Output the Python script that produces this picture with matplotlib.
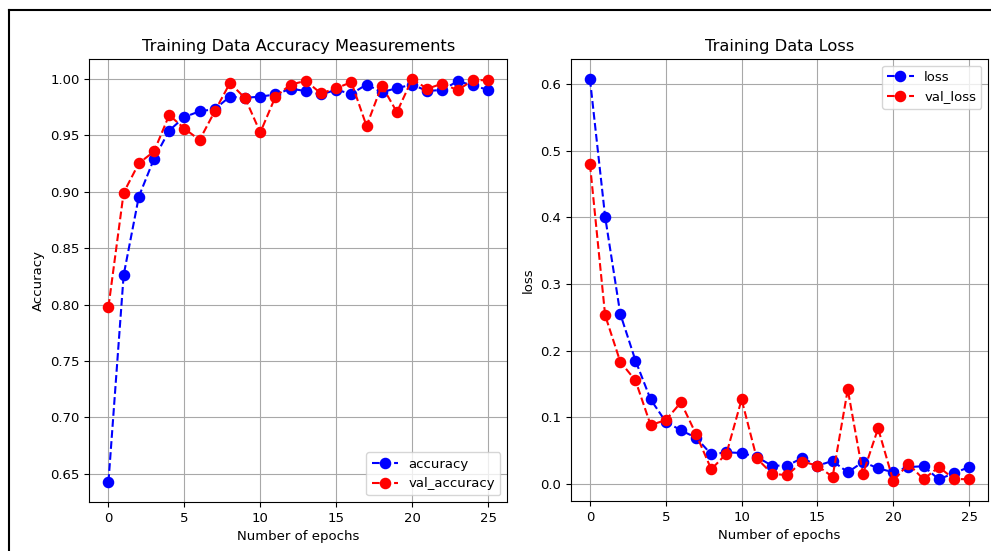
import matplotlib
matplotlib.use("Agg")
import matplotlib.pyplot as plt
from matplotlib.lines import Line2D

epochs = list(range(26))
accuracy = [0.643, 0.826, 0.8955, 0.929, 0.954, 0.966, 0.971, 0.973, 0.984, 0.983,
            0.984, 0.986, 0.991, 0.989, 0.986, 0.990, 0.9865, 0.9947, 0.988, 0.9915,
            0.9947, 0.989, 0.990, 0.9977, 0.994, 0.990]
val_accuracy = [0.798, 0.899, 0.925, 0.9355, 0.9677, 0.9558, 0.9456, 0.971, 0.996, 0.9827,
                0.9523, 0.984, 0.9947, 0.998, 0.9868, 0.9915, 0.9968, 0.958, 0.9938, 0.9703,
                0.9995, 0.991, 0.9956, 0.9897, 0.9986, 0.9986]
loss = [0.608, 0.401, 0.255, 0.185, 0.1265, 0.093, 0.080, 0.069, 0.044, 0.047,
        0.046, 0.040, 0.027, 0.027, 0.0385, 0.027, 0.034, 0.017, 0.0325, 0.023,
        0.017, 0.025, 0.026, 0.0065, 0.0155, 0.025]
val_loss = [0.480, 0.253, 0.183, 0.155, 0.088, 0.0955, 0.122, 0.074, 0.0215, 0.045,
            0.1265, 0.038, 0.015, 0.0125, 0.033, 0.027, 0.010, 0.1415, 0.0145, 0.083,
            0.004, 0.0295, 0.0065, 0.025, 0.007, 0.0065]

plt.rcParams['font.family'] = ['DejaVu Sans']
fig = plt.figure(figsize=(9.91, 5.51), dpi=100)

ax1 = fig.add_axes([0.0903, 0.0889, 0.5116 - 0.0903, 0.8929 - 0.0889])
ax2 = fig.add_axes([0.5762, 0.0907, 0.997 - 0.5762, 0.8929 - 0.0907])

fs_tick = 9.5
fs_label = 9.5
fs_title = 11.7

ax1.plot(epochs, accuracy, 'o--', color='blue', label='accuracy', markersize=7.3, linewidth=1.5)
ax1.plot(epochs, val_accuracy, 'o--', color='red', label='val_accuracy', markersize=7.3, linewidth=1.5)
ax1.set_title('Training Data Accuracy Measurements', fontsize=fs_title)
ax1.set_xlabel('Number of epochs', fontsize=fs_label)
ax1.set_ylabel('Accuracy', fontsize=fs_label)
ax1.legend(loc='lower right', fontsize=fs_label)
ax1.grid(True, color='#a8a8a8')

ax2.plot(epochs, loss, 'o--', color='blue', label='loss', markersize=7.3, linewidth=1.5)
ax2.plot(epochs, val_loss, 'o--', color='red', label='val_loss', markersize=7.3, linewidth=1.5)
ax2.set_title('Training Data Loss', fontsize=fs_title)
ax2.set_xlabel('Number of epochs', fontsize=fs_label)
ax2.set_ylabel('loss', fontsize=fs_label)
ax2.legend(loc='upper right', fontsize=fs_label)
ax2.grid(True, color='#a8a8a8')

for ax in (ax1, ax2):
    ax.tick_params(labelsize=fs_tick)
    ax.set_xticks([0, 5, 10, 15, 20, 25])

# outer frame (partially visible border)
fig.add_artist(Line2D([9 / 991, 1.0], [1 - 10 / 551, 1 - 10 / 551], color='black', linewidth=1.5, transform=fig.transFigure))
fig.add_artist(Line2D([9 / 991, 9 / 991], [0.0, 1 - 10 / 551], color='black', linewidth=1.5, transform=fig.transFigure))

fig.savefig('out.png', dpi=100)
